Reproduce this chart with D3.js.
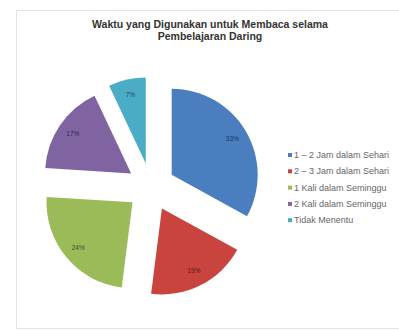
<!DOCTYPE html>
<html><head><meta charset="utf-8">
<script src="https://cdn.jsdelivr.net/npm/d3@7"></script>
<style>html,body{margin:0;padding:0;background:#fff;overflow:hidden}</style>
</head><body>
<svg id="c" width="399" height="331"></svg>
<script>
const categories = ["1 – 2 Jam dalam Sehari","2 – 3 Jam dalam Sehari","1 Kali dalam Seminggu","2 Kali dalam Seminggu","Tidak Menentu"];
const values = [33, 19, 24, 17, 7];
const labels = ["33%","19%","24%","17%","7%"];
const colors = ["#4a7ebf","#c9433f","#9bbb59","#8064a2","#4bacc6"];
const labelColors = ["#1d3557","#5a1a18","#3e5020","#33264a","#1c4a56"];
const titleLines = ["Waktu yang Digunakan untuk Membaca selama","Pembelajaran Daring"];

const svg = d3.select("#c");
svg.append("rect").attr("x",16.5).attr("y",10.5).attr("width",400).attr("height",318)
  .attr("fill","#fff").attr("stroke","#e4e4e4");

svg.append("g").selectAll("text").data(titleLines).join("text")
  .attr("x",210).attr("y",(d,i)=>28+i*11.5)
  .attr("text-anchor","middle").attr("font-family","Liberation Sans, Arial, sans-serif")
  .attr("font-weight","bold").attr("font-size",10.5).attr("fill","#333")
  .text(d=>d);

const cx = 151, cy = 187, r = 86, explode = 24;
const pie = d3.pie().sort(null).value(d=>d)(values);
const arc = d3.arc().innerRadius(0).outerRadius(r);
const g = svg.append("g").attr("transform",`translate(${cx},${cy})`);
const slices = g.selectAll("g").data(pie).join("g")
  .attr("transform",d=>{const a=(d.startAngle+d.endAngle)/2;return `translate(${Math.sin(a)*explode},${-Math.cos(a)*explode})`;});
slices.append("path").attr("d",arc).attr("fill",(d,i)=>colors[i]);
slices.append("text")
  .attr("transform",d=>{const a=(d.startAngle+d.endAngle)/2;const lr=r*0.82;return `translate(${Math.sin(a)*lr},${-Math.cos(a)*lr})`;})
  .attr("text-anchor","middle").attr("dy","0.35em")
  .attr("font-family","Liberation Sans, Arial, sans-serif").attr("font-size",6.5)
  .attr("fill",(d,i)=>labelColors[i]).text((d,i)=>labels[i]);

const leg = svg.append("g").selectAll("g").data(categories).join("g")
  .attr("transform",(d,i)=>`translate(288,${155+i*16.3})`);
leg.append("rect").attr("x",0).attr("y",-2).attr("width",4).attr("height",4).attr("fill",(d,i)=>colors[i]);
leg.append("text").attr("x",6).attr("dy","0.35em")
  .attr("font-family","Liberation Sans, Arial, sans-serif").attr("font-size",9)
  .attr("fill","#666").text(d=>d);
</script>
</body></html>
